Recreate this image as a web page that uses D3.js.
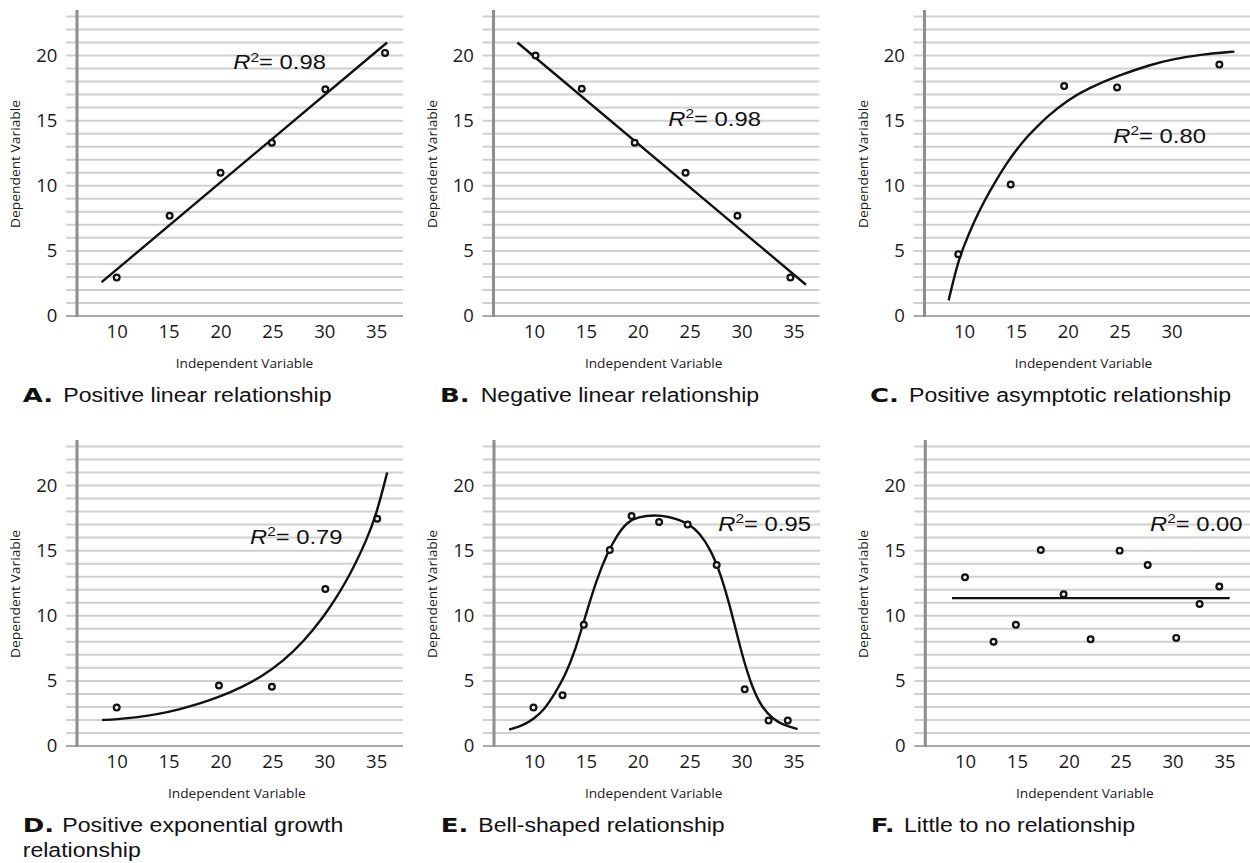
<!DOCTYPE html>
<html>
<head>
<meta charset="utf-8">
<script src="https://cdn.jsdelivr.net/npm/d3@7"></script>
<style>
  body { margin: 0; background: #fff; }
  svg { display: block; }
</style>
</head>
<body>
<svg id="chart" width="1250" height="863"></svg>
<script>
// ---- tick values ----
const yTickValues = [0, 5, 10, 15, 20];
const xTickValues = [10, 15, 20, 25, 30, 35];
const xTickValuesShort = [10, 15, 20, 25, 30];
const gridValues = d3.range(1, 24);

// ---- panel text ----
const panelLetters = ["A.", "B.", "C.", "D.", "E.", "F."];
const panelCaptions = [
  ["Positive linear relationship"],
  ["Negative linear relationship"],
  ["Positive asymptotic relationship"],
  ["Positive exponential growth", "relationship"],
  ["Bell-shaped relationship"],
  ["Little to no relationship"]
];
const rSquared = ["0.98", "0.98", "0.80", "0.79", "0.95", "0.00"];

// ---- A: positive linear ----
const aX = [10, 15.1, 20, 24.95, 30.1, 35.85];
const aY = [2.95, 7.7, 11.0, 13.3, 17.4, 20.2];
const aFitX = [8.55, 36.05];
const aFitY = [2.6, 21.0];

// ---- B: negative linear ----
const bX = [10.15, 14.6, 19.7, 24.6, 29.6, 34.7];
const bY = [20.0, 17.45, 13.3, 11.0, 7.7, 2.95];
const bFitX = [8.4, 36.2];
const bFitY = [21.0, 2.4];

// ---- C: positive asymptotic ----
const cX = [9.45, 14.5, 19.65, 24.75, 34.6];
const cY = [4.75, 10.1, 17.65, 17.55, 19.3];
const cFitX = [8.52, 9, 9.5, 10, 11, 12, 13, 14, 15, 16, 17, 18, 20, 22, 25, 28, 30, 33, 36.05];
const cFitY = [1.2, 2.8, 4.3, 5.4, 7.3, 8.9, 10.3, 11.6, 12.7, 13.7, 14.5, 15.3, 16.6, 17.5, 18.5, 19.3, 19.7, 20.1, 20.3];

// ---- D: positive exponential growth ----
const dX = [10, 19.85, 24.95, 30.1, 35.1];
const dY = [2.95, 4.65, 4.55, 12.05, 17.45];
const dFitX = [8.6, 10, 12, 14, 16, 18, 20, 22, 24, 26, 28, 30, 31, 32, 33, 34, 35, 36.06];
const dFitY = [2.0, 2.05, 2.2, 2.45, 2.8, 3.25, 3.8, 4.5, 5.35, 6.5, 8.0, 10.0, 11.2, 12.5, 14.0, 15.7, 17.7, 21.0];

// ---- E: bell-shaped ----
const eX = [9.95, 12.75, 14.8, 17.3, 19.4, 22.05, 24.8, 27.6, 30.3, 32.6, 34.45];
const eY = [2.95, 3.9, 9.3, 15.05, 17.65, 17.2, 17.0, 13.9, 4.35, 1.95, 1.95];
const eFitX = [7.6, 9, 10, 11, 12, 13, 14, 15, 16, 17, 18, 19, 20, 21.7, 23, 24, 25, 26, 27, 28, 29, 30, 31, 32, 33, 34, 35.4];
const eFitY = [1.25, 1.6, 2.1, 2.8, 4.0, 5.4, 7.4, 10.1, 12.7, 14.7, 16.2, 17.2, 17.6, 17.75, 17.6, 17.35, 17.0, 16.3, 15.1, 13.2, 10.4, 7.1, 4.5, 2.9, 2.1, 1.6, 1.3];

// ---- F: little to no relationship ----
const fX = [10, 12.75, 14.9, 17.3, 19.5, 22.1, 24.9, 27.6, 30.35, 32.6, 34.5];
const fY = [12.95, 8.0, 9.3, 15.05, 11.65, 8.2, 15.0, 13.9, 8.3, 10.9, 12.25];
const fFitX = [8.75, 35.5];
const fFitY = [11.35, 11.35];

// ---- layout of the six panels ----
const panels = [
  { xs: aX, ys: aY, fx: aFitX, fy: aFitY, axisX: 77,    x10: 116.7, base: 316, ticks: xTickValues,      titleX: 244.5, r2: [233.3, 69.3],  capX: [22.7, 63.3] },
  { xs: bX, ys: bY, fx: bFitX, fy: bFitY, axisX: 493.5, x10: 534,   base: 316, ticks: xTickValues,      titleX: 653.7, r2: [668.3, 125.7], capX: [440, 480.7] },
  { xs: cX, ys: cY, fx: cFitX, fy: cFitY, axisX: 924.5, x10: 964,   base: 316, ticks: xTickValuesShort, titleX: 1083.5, r2: [1113.3, 142.7], capX: [870, 909] },
  { xs: dX, ys: dY, fx: dFitX, fy: dFitY, axisX: 77,    x10: 116.7, base: 746, ticks: xTickValues,      titleX: 236.8, r2: [250, 544],     capX: [22.7, 62.3] },
  { xs: eX, ys: eY, fx: eFitX, fy: eFitY, axisX: 494,   x10: 534,   base: 746, ticks: xTickValues,      titleX: 653.7, r2: [718.3, 531],   capX: [440.7, 478.3] },
  { xs: fX, ys: fY, fx: fFitX, fy: fFitY, axisX: 925.3, x10: 965,   base: 746, ticks: xTickValues,      titleX: 1084.8, r2: [1150, 531],   capX: [870.7, 904] }
];

const svg = d3.select("#chart");
const tickFont = "'Open Sans', 'Noto Sans', sans-serif";
const textFont = "'Liberation Sans', Arial, sans-serif";

panels.forEach((p, i) => {
  const g = svg.append("g");
  const x = d3.scaleLinear().domain([10, 35]).range([p.x10, p.x10 + 259.5]);
  const y = d3.scaleLinear().domain([0, 20]).range([p.base, p.base - 260.5]);
  const gridLeft = p.axisX - 11, gridRight = p.axisX + 326;

  // horizontal grid
  g.append("g").selectAll("line").data(gridValues).join("line")
    .attr("x1", gridLeft).attr("x2", gridRight)
    .attr("y1", d => y(d)).attr("y2", d => y(d))
    .attr("stroke", "#d0d0d0").attr("stroke-width", 2);

  // baseline at zero
  g.append("line")
    .attr("x1", gridLeft).attr("x2", gridRight)
    .attr("y1", y(0)).attr("y2", y(0))
    .attr("stroke", "#a9a9a9").attr("stroke-width", 2);

  // vertical axis line
  g.append("line")
    .attr("x1", p.axisX).attr("x2", p.axisX)
    .attr("y1", y(0) + 1).attr("y2", y(23.5))
    .attr("stroke", "#8e8e8e").attr("stroke-width", 3);

  // y tick labels
  const yAxis = g.append("g")
    .attr("transform", `translate(${gridLeft},0)`)
    .call(d3.axisLeft(y).tickValues(yTickValues).tickSize(0).tickPadding(8.7));
  yAxis.select(".domain").remove();
  yAxis.selectAll("text")
    .attr("font-family", tickFont).attr("font-size", 18.5).attr("fill", "#1a1a1a");

  // x tick labels
  const xAxis = g.append("g")
    .attr("transform", `translate(0,${p.base})`)
    .call(d3.axisBottom(x).tickValues(p.ticks).tickSize(0).tickPadding(9));
  xAxis.select(".domain").remove();
  xAxis.selectAll("text")
    .attr("font-family", tickFont).attr("font-size", 18.5).attr("fill", "#1a1a1a");

  // axis titles
  g.append("text")
    .attr("x", p.titleX).attr("y", p.base + 51.5)
    .attr("text-anchor", "middle")
    .attr("font-family", tickFont).attr("font-size", 13).attr("fill", "#1a1a1a")
    .attr("textLength", 137.6).attr("lengthAdjust", "spacingAndGlyphs")
    .text("Independent Variable");

  g.append("text")
    .attr("transform", `translate(${p.axisX - 57},${p.base - 152}) rotate(-90)`)
    .attr("text-anchor", "middle")
    .attr("font-family", tickFont).attr("font-size", 13).attr("fill", "#1a1a1a")
    .attr("textLength", 128).attr("lengthAdjust", "spacingAndGlyphs")
    .text("Dependent Variable");

  // fitted trend (smooth B-spline through the sampled trend values)
  const fit = p.fx.map((v, k) => [v, p.fy[k]]);
  g.append("path")
    .datum(fit)
    .attr("fill", "none").attr("stroke", "#111").attr("stroke-width", 2.4)
    .attr("stroke-linejoin", "round")
    .attr("d", d3.line().x(d => x(d[0])).y(d => y(d[1])).curve(d3.curveBasis));

  // observations
  const pts = p.xs.map((v, k) => [v, p.ys[k]]);
  g.append("g").selectAll("circle").data(pts).join("circle")
    .attr("cx", d => x(d[0])).attr("cy", d => y(d[1])).attr("r", 2.9)
    .attr("fill", "#eeeeee").attr("stroke", "#111").attr("stroke-width", 2.2);

  // R squared label
  const r2 = g.append("text")
    .attr("transform", `translate(${p.r2[0]},${p.r2[1]}) scale(1.19,1)`)
    .attr("font-family", textFont).attr("font-size", 20).attr("fill", "#111");
  r2.append("tspan").attr("font-style", "italic").text("R");
  r2.append("tspan").attr("font-size", 13).attr("dy", -7.6).text("2");
  r2.append("tspan").attr("dy", 7.6).text("= " + rSquared[i]);

  // caption
  const capY = p.base + 85.7;
  g.append("text")
    .attr("transform", `translate(${p.capX[0]},${capY}) scale(1.3,1)`)
    .attr("font-family", "'DejaVu Sans', sans-serif").attr("font-weight", "bold")
    .attr("font-size", 20).attr("fill", "#111")
    .text(panelLetters[i]);
  panelCaptions[i].forEach((line, k) => {
    g.append("text")
      .attr("transform", `translate(${k === 0 ? p.capX[1] : p.capX[0]},${capY + k * 25}) scale(1.1,1)`)
      .attr("font-family", textFont).attr("font-size", 21).attr("fill", "#111")
      .text(line);
  });
});
</script>
</body>
</html>
